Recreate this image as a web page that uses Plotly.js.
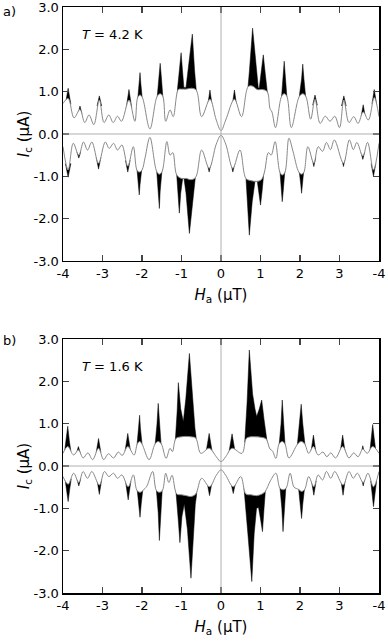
<!DOCTYPE html>
<html>
<head>
<meta charset="utf-8">
<script src="https://cdn.plot.ly/plotly-3.0.1.min.js"></script>
<style>
  html, body { margin: 0; padding: 0; background: white; }
  #chart { width: 388px; height: 643px; }
</style>
</head>
<body>
<div id="chart"></div>
<script>
// a) T = 4.2 K -- thin curve, positive branch
const a_up_h = [-4.00, -3.87, -3.72, -3.57, -3.45, -3.34, -3.22, -3.08, -2.96, -2.84, -2.73, -2.62, -2.52, -2.33, -2.18, -2.11, -2.05, -1.99, -1.80, -1.62, -1.54, -1.47, -1.40, -1.29, -1.21, -1.08, -1.00, -0.88, -0.76, -0.63, -0.49, -0.28, -0.12, 0.00, 0.12, 0.34, 0.52, 0.69, 0.80, 0.92, 1.05, 1.17, 1.24, 1.29, 1.38, 1.53, 1.60, 1.67, 1.78, 1.98, 2.07, 2.15, 2.27, 2.38, 2.51, 2.64, 2.76, 2.88, 3.00, 3.11, 3.24, 3.36, 3.47, 3.60, 3.73, 3.88, 4.00]
const a_up_i = [0.72, 0.84, 0.38, 0.58, 0.27, 0.45, 0.22, 0.80, 0.27, 0.45, 0.27, 0.42, 0.30, 0.80, 0.30, 0.86, 0.92, 0.86, 0.12, 0.88, 0.95, 0.88, 0.30, 0.57, 0.41, 1.05, 1.06, 1.06, 1.08, 1.04, 0.41, 0.82, 0.33, 0.08, 0.33, 0.82, 0.41, 1.12, 1.13, 1.05, 1.05, 1.00, 0.60, 0.52, 0.15, 0.88, 0.95, 0.88, 0.15, 0.88, 0.95, 0.88, 0.35, 0.82, 0.25, 0.42, 0.30, 0.42, 0.15, 0.80, 0.27, 0.41, 0.25, 0.52, 0.33, 0.86, 0.41]

// a) negative branch
const a_lo_h = [-4.00, -3.87, -3.74, -3.60, -3.48, -3.38, -3.27, -3.10, -2.93, -2.83, -2.72, -2.62, -2.51, -2.36, -2.22, -2.13, -2.07, -2.00, -1.92, -1.80, -1.63, -1.56, -1.49, -1.37, -1.29, -1.22, -1.12, -1.00, -0.88, -0.76, -0.64, -0.49, -0.30, -0.12, 0.00, 0.12, 0.30, 0.48, 0.63, 0.75, 0.90, 1.02, 1.10, 1.20, 1.27, 1.37, 1.49, 1.55, 1.62, 1.72, 1.82, 1.97, 2.04, 2.10, 2.20, 2.35, 2.46, 2.57, 2.67, 2.77, 2.87, 3.10, 3.25, 3.35, 3.44, 3.59, 3.71, 3.86, 4.00]
const a_lo_i = [-0.30, -0.85, -0.22, -0.50, -0.19, -0.38, -0.19, -0.69, -0.19, -0.34, -0.22, -0.38, -0.26, -0.76, -0.30, -0.85, -0.90, -0.85, -0.55, -0.08, -0.88, -0.95, -0.88, -0.18, -0.50, -0.44, -0.97, -1.05, -1.05, -1.08, -1.02, -0.38, -0.81, -0.24, -0.03, -0.24, -0.81, -0.38, -1.05, -1.10, -1.12, -1.08, -0.90, -0.44, -0.50, -0.18, -0.90, -0.97, -0.90, -0.10, -0.40, -0.90, -0.95, -0.90, -0.30, -0.69, -0.30, -0.41, -0.20, -0.37, -0.14, -0.69, -0.14, -0.37, -0.20, -0.52, -0.20, -0.85, -0.22]

// a) black spikes (outer envelope), one polygon per spike, null between
const a_up_spk_h = [
    -3.94, -3.87, -3.80, null,
    -3.62, -3.57, -3.52, null,
    -3.14, -3.08, -3.02, null,
    -2.40, -2.33, -2.26, null,
    -2.12, -2.10, -2.07, -2.05, -2.03, -2.00, -1.98, null,
    -1.63, -1.61, -1.57, -1.54, -1.51, -1.48, -1.46, null,
    -1.11, -1.10, -1.055, -1.01, -0.975, -0.94, -0.886, -0.83, -0.726, -0.67, -0.633, -0.61, null,
    -0.34, -0.28, -0.22, null,
    0.28, 0.34, 0.40, null,
    0.66, 0.69, 0.72, 0.80, 0.89, 0.945, 0.97, 1.01, 1.07, 1.12, 1.17, 1.19, null,
    1.52, 1.54, 1.57, 1.60, 1.63, 1.66, 1.68, null,
    1.97, 1.99, 2.04, 2.07, 2.10, 2.14, 2.16, null,
    2.32, 2.38, 2.44, null,
    3.05, 3.11, 3.17, null,
    3.55, 3.60, 3.65, null,
    3.82, 3.88, 3.94]
const a_up_spk_i = [
    0.70, 1.08, 0.70, null,
    0.48, 0.66, 0.48, null,
    0.66, 0.90, 0.66, null,
    0.62, 1.05, 0.62, null,
    0.70, 0.95, 1.20, 1.45, 1.20, 0.95, 0.70, null,
    0.72, 0.95, 1.35, 1.67, 1.35, 0.95, 0.72, null,
    0.85, 1.08, 1.50, 1.92, 1.50, 1.10, 1.10, 1.51, 2.36, 1.51, 1.06, 0.85, null,
    0.65, 1.04, 0.65, null,
    0.65, 1.04, 0.65, null,
    0.85, 1.14, 1.50, 2.50, 1.50, 1.08, 1.10, 1.43, 1.87, 1.43, 1.02, 0.85, null,
    0.72, 0.95, 1.35, 1.72, 1.35, 0.95, 0.72, null,
    0.72, 0.95, 1.30, 1.65, 1.30, 0.95, 0.72, null,
    0.68, 0.92, 0.68, null,
    0.66, 0.90, 0.66, null,
    0.43, 0.69, 0.43, null,
    0.70, 1.05, 0.70]
const a_lo_spk_h = [
    -3.94, -3.87, -3.80, null,
    -3.65, -3.60, -3.55, null,
    -3.16, -3.10, -3.04, null,
    -2.42, -2.36, -2.30, null,
    -2.14, -2.12, -2.09, -2.07, -2.05, -2.01, -1.99, null,
    -1.64, -1.62, -1.58, -1.56, -1.54, -1.50, -1.48, null,
    -1.13, -1.12, -1.09, -1.055, -1.02, -0.97, -0.937, -0.886, -0.80, -0.70, -0.65, -0.63, null,
    -0.36, -0.30, -0.24, null,
    0.24, 0.30, 0.36, null,
    0.62, 0.633, 0.68, 0.717, 0.79, 0.86, 0.92, 0.96, 1.00, 1.04, 1.07, 1.09, null,
    1.48, 1.50, 1.53, 1.55, 1.58, 1.61, 1.63, null,
    1.96, 1.98, 2.02, 2.04, 2.06, 2.09, 2.11, null,
    2.30, 2.35, 2.40, null,
    3.05, 3.10, 3.15, null,
    3.54, 3.59, 3.64, null,
    3.80, 3.86, 3.92]
const a_lo_spk_i = [
    -0.70, -1.02, -0.70, null,
    -0.42, -0.57, -0.42, null,
    -0.55, -0.83, -0.55, null,
    -0.62, -0.90, -0.62, null,
    -0.70, -0.92, -1.20, -1.44, -1.20, -0.92, -0.70, null,
    -0.72, -0.95, -1.35, -1.76, -1.35, -0.95, -0.72, null,
    -0.85, -1.00, -1.45, -1.87, -1.40, -1.05, -1.05, -1.40, -2.35, -1.40, -1.03, -0.85, null,
    -0.65, -0.90, -0.65, null,
    -0.65, -0.90, -0.65, null,
    -0.85, -1.05, -1.60, -2.39, -1.60, -1.12, -1.12, -1.40, -1.68, -1.35, -1.05, -0.85, null,
    -0.72, -0.95, -1.30, -1.60, -1.30, -0.95, -0.72, null,
    -0.72, -0.95, -1.20, -1.40, -1.20, -0.95, -0.72, null,
    -0.55, -0.77, -0.55, null,
    -0.55, -0.77, -0.55, null,
    -0.42, -0.60, -0.42, null,
    -0.70, -1.00, -0.70]

// b) T = 1.6 K -- thin curve
const b_up_h = [-4.00, -3.88, -3.73, -3.61, -3.49, -3.37, -3.25, -3.10, -2.97, -2.85, -2.72, -2.60, -2.50, -2.36, -2.20, -2.12, -2.06, -2.00, -1.82, -1.67, -1.59, -1.51, -1.39, -1.29, -1.23, -1.14, -1.00, -0.88, -0.76, -0.64, -0.51, -0.30, -0.12, 0.00, 0.12, 0.28, 0.53, 0.64, 0.75, 0.88, 1.00, 1.14, 1.24, 1.30, 1.39, 1.47, 1.55, 1.62, 1.72, 1.94, 2.03, 2.12, 2.22, 2.34, 2.46, 2.58, 2.68, 2.78, 2.90, 3.08, 3.24, 3.36, 3.47, 3.59, 3.70, 3.84, 4.00]
const b_up_i = [0.30, 0.46, 0.26, 0.38, 0.19, 0.31, 0.15, 0.42, 0.15, 0.29, 0.19, 0.33, 0.25, 0.46, 0.26, 0.52, 0.58, 0.52, 0.15, 0.52, 0.58, 0.52, 0.18, 0.42, 0.34, 0.65, 0.69, 0.70, 0.69, 0.66, 0.30, 0.42, 0.22, 0.10, 0.22, 0.42, 0.30, 0.65, 0.69, 0.69, 0.68, 0.64, 0.40, 0.36, 0.18, 0.52, 0.58, 0.52, 0.19, 0.52, 0.58, 0.52, 0.30, 0.46, 0.26, 0.33, 0.22, 0.31, 0.19, 0.46, 0.19, 0.31, 0.22, 0.40, 0.30, 0.46, 0.30]
const b_lo_h = [-4.00, -3.87, -3.73, -3.60, -3.49, -3.38, -3.27, -3.08, -2.95, -2.84, -2.72, -2.62, -2.51, -2.35, -2.22, -2.13, -2.05, -1.97, -1.88, -1.73, -1.64, -1.56, -1.48, -1.40, -1.32, -1.24, -1.12, -1.00, -0.88, -0.76, -0.64, -0.49, -0.29, -0.12, 0.00, 0.12, 0.31, 0.50, 0.63, 0.76, 0.90, 1.04, 1.12, 1.25, 1.39, 1.49, 1.57, 1.65, 1.75, 1.85, 1.96, 2.04, 2.12, 2.22, 2.35, 2.46, 2.57, 2.67, 2.78, 2.88, 3.09, 3.24, 3.35, 3.45, 3.60, 3.72, 3.86, 4.00]
const b_lo_i = [-0.25, -0.43, -0.17, -0.39, -0.13, -0.29, -0.13, -0.45, -0.13, -0.25, -0.17, -0.29, -0.21, -0.49, -0.21, -0.57, -0.62, -0.57, -0.48, -0.13, -0.57, -0.62, -0.57, -0.17, -0.39, -0.22, -0.66, -0.68, -0.70, -0.72, -0.66, -0.29, -0.49, -0.22, -0.09, -0.22, -0.49, -0.25, -0.66, -0.68, -0.70, -0.66, -0.60, -0.35, -0.17, -0.52, -0.56, -0.52, -0.17, -0.50, -0.55, -0.60, -0.55, -0.25, -0.49, -0.21, -0.33, -0.13, -0.29, -0.13, -0.45, -0.13, -0.29, -0.17, -0.39, -0.17, -0.49, -0.13]

const b_up_spk_h = [
    -3.96, -3.92, -3.88, -3.84, -3.80, null,
    -3.66, -3.61, -3.56, null,
    -3.16, -3.10, -3.04, null,
    -2.43, -2.36, -2.29, null,
    -2.14, -2.12, -2.08, -2.06, -2.04, -2.00, -1.98, null,
    -1.68, -1.66, -1.62, -1.59, -1.56, -1.52, -1.50, null,
    -1.16, -1.15, -1.11, -1.08, -1.02, -0.954, -0.89, -0.80, -0.72, -0.66, -0.633, -0.62, null,
    -0.38, -0.30, -0.22, null,
    0.20, 0.28, 0.36, null,
    0.60, 0.61, 0.66, 0.717, 0.80, 0.86, 0.903, 0.97, 1.03, 1.09, 1.157, 1.17, null,
    1.46, 1.48, 1.52, 1.55, 1.58, 1.61, 1.63, null,
    1.92, 1.94, 1.99, 2.03, 2.07, 2.12, 2.14, null,
    2.28, 2.34, 2.40, null,
    3.02, 3.08, 3.14, null,
    3.55, 3.59, 3.63, null,
    3.77, 3.81, 3.84, 3.88, 3.92]
const b_up_spk_i = [
    0.35, 0.60, 0.94, 0.60, 0.35, null,
    0.30, 0.46, 0.30, null,
    0.32, 0.65, 0.32, null,
    0.35, 0.77, 0.35, null,
    0.35, 0.55, 0.90, 1.20, 0.90, 0.55, 0.35, null,
    0.38, 0.56, 1.00, 1.48, 1.00, 0.56, 0.38, null,
    0.55, 0.68, 1.30, 1.97, 1.35, 1.05, 1.60, 2.66, 1.60, 0.90, 0.70, 0.55, null,
    0.32, 0.77, 0.32, null,
    0.32, 0.76, 0.32, null,
    0.55, 0.68, 1.50, 2.74, 1.70, 1.35, 1.17, 1.35, 1.56, 1.10, 0.68, 0.55, null,
    0.38, 0.56, 1.00, 1.56, 1.00, 0.56, 0.38, null,
    0.38, 0.56, 1.00, 1.46, 1.00, 0.56, 0.38, null,
    0.35, 0.73, 0.35, null,
    0.35, 0.73, 0.35, null,
    0.30, 0.48, 0.30, null,
    0.35, 0.65, 0.98, 0.65, 0.35]
const b_lo_spk_h = [
    -3.95, -3.91, -3.87, -3.83, -3.79, null,
    -3.65, -3.60, -3.55, null,
    -3.14, -3.08, -3.02, null,
    -2.42, -2.35, -2.28, null,
    -2.14, -2.12, -2.08, -2.05, -2.02, -1.98, -1.96, null,
    -1.65, -1.63, -1.59, -1.56, -1.53, -1.49, -1.47, null,
    -1.15, -1.13, -1.08, -1.04, -0.99, -0.93, -0.85, -0.76, -0.70, -0.65, -0.62, -0.61, null,
    -0.36, -0.29, -0.22, null,
    0.24, 0.31, 0.38, null,
    0.58, 0.60, 0.68, 0.78, 0.84, 0.90, 0.95, 1.00, 1.05, 1.09, 1.12, 1.13, null,
    1.48, 1.50, 1.54, 1.57, 1.60, 1.64, 1.66, null,
    1.95, 1.97, 2.01, 2.04, 2.07, 2.11, 2.13, null,
    2.29, 2.35, 2.41, null,
    3.03, 3.09, 3.15, null,
    3.56, 3.60, 3.64, null,
    3.79, 3.83, 3.86, 3.90, 3.94]
const b_lo_spk_i = [
    -0.30, -0.55, -0.84, -0.55, -0.30, null,
    -0.30, -0.47, -0.30, null,
    -0.32, -0.67, -0.32, null,
    -0.35, -0.80, -0.35, null,
    -0.40, -0.60, -0.90, -1.21, -0.90, -0.60, -0.40, null,
    -0.40, -0.60, -1.10, -1.76, -1.10, -0.60, -0.40, null,
    -0.50, -0.70, -1.30, -1.81, -1.20, -0.90, -1.50, -2.65, -1.60, -0.90, -0.70, -0.50, null,
    -0.35, -0.70, -0.35, null,
    -0.35, -0.65, -0.35, null,
    -0.50, -0.70, -1.60, -2.73, -1.60, -1.00, -0.98, -1.25, -1.55, -1.00, -0.70, -0.50, null,
    -0.38, -0.54, -1.00, -1.55, -1.00, -0.54, -0.38, null,
    -0.40, -0.58, -0.90, -1.24, -0.90, -0.58, -0.40, null,
    -0.35, -0.69, -0.35, null,
    -0.30, -0.69, -0.30, null,
    -0.30, -0.47, -0.30, null,
    -0.35, -0.65, -0.96, -0.65, -0.35]

const x_tick_vals = [-4, -3, -2, -1, 0, 1, 2, 3, 4]
const x_tick_text = ['-4', '-3', '-2', '-1', '0', '1', '2', '3', '-4']
const y_tick_vals = [-3, -2, -1, 0, 1, 2, 3]
const y_tick_text = ['-3.0', '-2.0', '-1.0', '0.0', '1.0', '2.0', '3.0']

const fam = 'DejaVu Sans, Arial, sans-serif'

function spikes(h, i, xa, ya) {
    return {
        x: h, y: i, xaxis: xa, yaxis: ya,
        mode: 'lines', fill: 'toself', fillcolor: 'black',
        line: { color: 'black', width: 0.5 },
        connectgaps: false, hoverinfo: 'skip',
    }
}

// thin curve; white fill to zero hides the base of the spikes
function curve(h, i, xa, ya) {
    return {
        x: h, y: i, xaxis: xa, yaxis: ya,
        mode: 'lines', fill: 'tozeroy', fillcolor: 'white',
        line: { color: '#888888', width: 1, shape: 'spline', smoothing: 1 },
        hoverinfo: 'skip',
    }
}

const traces = [
    spikes(a_up_spk_h, a_up_spk_i, 'x', 'y'),
    spikes(a_lo_spk_h, a_lo_spk_i, 'x', 'y'),
    curve(a_up_h, a_up_i, 'x', 'y'),
    curve(a_lo_h, a_lo_i, 'x', 'y'),
    spikes(b_up_spk_h, b_up_spk_i, 'x2', 'y2'),
    spikes(b_lo_spk_h, b_lo_spk_i, 'x2', 'y2'),
    curve(b_up_h, b_up_i, 'x2', 'y2'),
    curve(b_lo_h, b_lo_i, 'x2', 'y2'),
]

function xAxis(anchor) {
    return {
        anchor: anchor, range: [-4, 4],
        tickvals: x_tick_vals, ticktext: x_tick_text,
        ticks: 'inside', ticklen: 6, tickwidth: 1.5,
        showline: true, linewidth: 1.5, linecolor: 'black', mirror: 'ticks',
        showgrid: false, zeroline: false, ticklabeloverflow: 'allow',
        tickfont: { size: 13, color: 'black' },
        title: { text: '<i>H</i><sub>a</sub> (\u03bcT)', font: { size: 15, color: 'black' }, standoff: 9 },
        fixedrange: true,
    }
}

function yAxis(anchor, domain) {
    return {
        anchor: anchor, domain: domain, range: [-3, 3],
        tickvals: y_tick_vals, ticktext: y_tick_text,
        ticks: 'inside', ticklen: 6, tickwidth: 1.5,
        showline: true, linewidth: 1.5, linecolor: 'black', mirror: 'ticks',
        showgrid: false, zeroline: false, ticklabeloverflow: 'allow',
        tickfont: { size: 13, color: 'black' },
        title: { text: '<i>I</i><sub>c</sub> (\u03bcA)', font: { size: 15, color: 'black' }, standoff: 0 },
        fixedrange: true,
    }
}

function guides(xr, yr) {
    const st = { color: '#b0b0b0', width: 1 }
    return [
        { type: 'line', xref: xr, yref: yr, x0: -4, x1: 4, y0: 0, y1: 0, line: st, layer: 'above' },
        { type: 'line', xref: xr, yref: yr, x0: 0, x1: 0, y0: -3, y1: 3, line: st, layer: 'above' },
    ]
}

const layout = {
    width: 388,
    height: 643,
    margin: { l: 63, r: 9, t: 7, b: 50 },
    paper_bgcolor: 'white',
    plot_bgcolor: 'white',
    showlegend: false,
    font: { family: fam, color: 'black', size: 13 },
    xaxis: xAxis('y'),
    yaxis: yAxis('x', [0.5666, 1]),
    xaxis2: xAxis('y2'),
    yaxis2: yAxis('x2', [0, 0.4334]),
    shapes: guides('x', 'y').concat(guides('x2', 'y2')),
    annotations: [
        { text: '<i>T</i> = 4.2 K', xref: 'x', yref: 'y', x: -3.57, y: 2.36, xanchor: 'left', yanchor: 'middle', showarrow: false, font: { size: 13 } },
        { text: '<i>T</i> = 1.6 K', xref: 'x2', yref: 'y2', x: -3.57, y: 2.36, xanchor: 'left', yanchor: 'middle', showarrow: false, font: { size: 13 } },
        { text: 'a)', xref: 'paper', yref: 'paper', x: -0.196, y: 0.993, xanchor: 'left', yanchor: 'middle', showarrow: false, font: { size: 13 } },
        { text: 'b)', xref: 'paper', yref: 'paper', x: -0.196, y: 0.4317, xanchor: 'left', yanchor: 'middle', showarrow: false, font: { size: 13 } },
    ],
}

Plotly.newPlot('chart', traces, layout, { displayModeBar: false, staticPlot: true })
</script>
</body>
</html>
